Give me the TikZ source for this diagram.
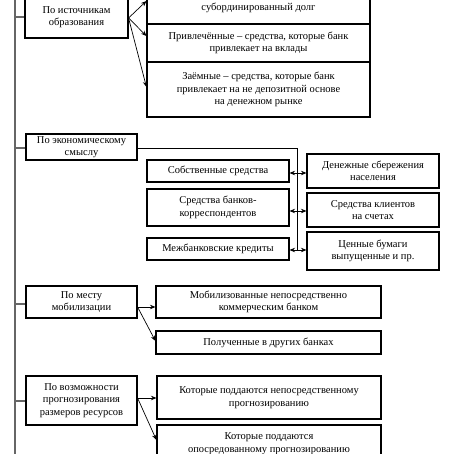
\documentclass[tikz,border=0pt]{standalone}
\usepackage{fontspec}
\setmainfont{Liberation Serif}
\usetikzlibrary{arrows.meta,calc}
\begin{document}
\begin{tikzpicture}[x=1pt,y=-1pt,
  box/.style={draw, line width=1.1pt, align=center, inner sep=0pt,
    font=\fontsize{10.5}{12.5}\selectfont},
  arr/.style={-{Stealth[length=5.5pt,width=4.5pt]}, line width=0.7pt},
  darr/.style={{Stealth[length=5.5pt,width=4.5pt]}-{Stealth[length=5.5pt,width=4.5pt]}, line width=0.7pt},
  ln/.style={line width=0.9pt},
  main/.style={line width=1.1pt, draw=black!60}]
\useasboundingbox (0,0) rectangle (454,454);
% main spine
\coordinate (top) at (15,-2);
\coordinate (bot) at (15,456);
\draw[main] (top) -- (bot);

% group A
\node[box, minimum width=103, minimum height=42] (A) at (76.5,17) {По источникам\\образования};
\node[box, minimum width=223, minimum height=32] (A1) at (258.5,8) {субординированный долг};
\node[box, minimum width=223, minimum height=38] (A2) at (258.5,43) {Привлечённые – средства, которые банк\\привлекает на вклады};
\node[box, minimum width=223, minimum height=55] (A3) at (258.5,89.5) {Заёмные – средства, которые банк\\привлекает на не депозитной основе\\на денежном рынке};
\draw[main] (15,17) -- (A.west |- 0,17);
\coordinate (Ao) at ($(A.east)+(0,1)$);
\draw[arr] (Ao) -- (A1.west |- 0,1);
\draw[arr] (Ao) -- (A2.west |- 0,36);
\draw[arr] (Ao) -- (A3.west |- 0,87);

% group B
\node[box, minimum width=111, minimum height=26] (B) at (81.5,147) {По экономическому\\смыслу};
\node[box, minimum width=142, minimum height=22] (B1) at (218,171) {Собственные средства};
\node[box, minimum width=142, minimum height=37] (B2) at (218,207.5) {Средства банков-\\корреспондентов};
\node[box, minimum width=142, minimum height=22] (B3) at (218,249) {Межбанковские кредиты};
\node[box, minimum width=132, minimum height=34] (C1) at (373,171) {Денежные сбережения\\населения};
\node[box, minimum width=132, minimum height=34] (C2) at (373,210) {Средства клиентов\\на счетах};
\node[box, minimum width=132, minimum height=38] (C3) at (373,251) {Ценные бумаги\\выпущенные и пр.};
\coordinate (Bj) at (297,250);
\draw[main] (15,148) -- (B.west |- 0,148);
\draw[ln] (B.east |- 0,148) -| (Bj);
\draw[darr] (B1.east |- 0,173) -- (C1.west |- 0,173);
\draw[darr] (B2.east |- 0,211) -- (C2.west |- 0,211);
\draw[darr] (B3.east |- 0,250) -- (C3.west |- 0,250);

% group D
\node[box, minimum width=111, minimum height=32] (D) at (81.5,302) {По месту\\мобилизации};
\node[box, minimum width=225, minimum height=32] (D1) at (268.5,302) {Мобилизованные непосредственно\\коммерческим банком};
\node[box, minimum width=225, minimum height=23] (D2) at (268.5,342.5) {Полученные в других банках};
\draw[main] (15,304) -- (D.west |- 0,304);
\coordinate (Do) at ($(D.east)+(0,5)$);
\draw[arr] (Do) -- (D1.west |- 0,307);
\draw[arr] (Do) -- (D2.west |- 0,341);

% group E
\node[box, minimum width=111, minimum height=49] (E) at (81.5,400.5) {По возможности\\прогнозирования\\размеров ресурсов};
\node[box, minimum width=224, minimum height=43] (E1) at (269,397.5) {Которые поддаются непосредственному\\прогнозированию};
\node[box, minimum width=224, minimum height=37] (E2) at (269,443.5) {Которые поддаются\\опосредованному прогнозированию};
\draw[main] (15,401) -- (E.west |- 0,401);
\coordinate (Eo) at ($(E.east)+(0,-2.5)$);
\draw[arr] (Eo) -- (E1.west |- 0,398);
\draw[arr] (Eo) -- (E2.west |- 0,440);
\end{tikzpicture}
\end{document}
